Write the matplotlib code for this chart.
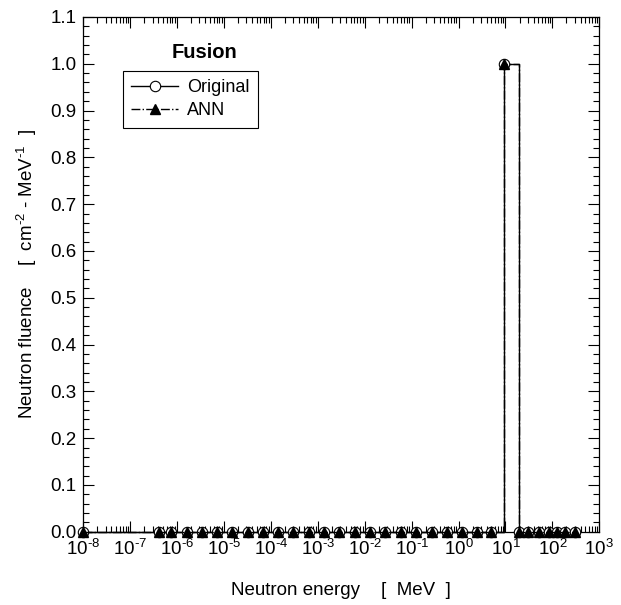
import numpy as np
import matplotlib
matplotlib.use("Agg")
import matplotlib.pyplot as plt
from matplotlib.ticker import MultipleLocator, LogLocator, NullFormatter, FuncFormatter

plt.rcParams['font.family'] = ['Liberation Sans', 'DejaVu Sans']
plt.rcParams['mathtext.fontset'] = 'custom'
plt.rcParams['mathtext.rm'] = 'Liberation Sans'
plt.rcParams['mathtext.it'] = 'Liberation Sans:italic'
plt.rcParams['mathtext.bf'] = 'Liberation Sans:bold'

# energy groups [MeV]
energy = [1.0e-8, 4.14e-7, 7.3e-7, 1.6e-6, 3.4e-6, 7.2e-6, 1.5e-5, 3.2e-5,
          6.7e-5, 1.4e-4, 3.0e-4, 6.4e-4, 1.35e-3, 2.9e-3, 6.1e-3, 1.3e-2,
          2.7e-2, 5.8e-2, 0.125, 0.27, 0.56, 1.17, 2.45, 5.0, 9.3,
          19.0, 31.0, 51.0, 83.0, 127.0, 190.0, 300.0]
original = [0.0] * 24 + [1.0] + [0.0] * 7
ann = [0.0] * 24 + [1.0] + [0.0] * 7

fig = plt.figure(figsize=(6.21, 6.05), dpi=100)
ax = fig.add_axes([0.134, 0.121, 0.831, 0.851])

ax.step(energy, original, where='post', color='black', lw=1.0,
        marker='o', ms=7.5, mfc='white', mec='black', mew=0.8,
        label='Original', clip_on=False, zorder=3)
ax.step(energy, ann, where='post', color='black', lw=1.0, ls='-.',
        marker='^', ms=7.5, mfc='black', mec='black',
        label='ANN', clip_on=False, zorder=4)

ax.set_xscale('log')
ax.set_xlim(1e-8, 1e3)
ax.set_ylim(0, 1.1)
ax.xaxis.set_major_locator(LogLocator(base=10, numticks=20))
ax.xaxis.set_minor_locator(LogLocator(base=10, subs=np.arange(2, 10), numticks=20))
ax.xaxis.set_minor_formatter(NullFormatter())


def pow_label(v, pos):
    n = int(round(np.log10(v)))
    s = '\u2010' + str(-n) if n < 0 else str(n)
    return '$\\mathregular{10^{' + s + '}}$'


ax.xaxis.set_major_formatter(FuncFormatter(pow_label))
ax.yaxis.set_major_locator(MultipleLocator(0.1))
ax.yaxis.set_minor_locator(MultipleLocator(0.02))
ax.yaxis.set_major_formatter(FuncFormatter(lambda v, p: f"{v:.1f}"))

ax.tick_params(which='both', direction='in', top=True, right=True, labelsize=13.5,
               width=0.8, color='black')
ax.tick_params(which='major', length=8, pad=5)
ax.tick_params(which='minor', length=4)
for s in ax.spines.values():
    s.set_linewidth(0.9)

ax.set_xlabel('Neutron energy    [  MeV  ]', fontsize=13.5, labelpad=17)
ax.set_ylabel('Neutron fluence    [  cm$^{\u2010 2}$ - MeV$^{\u2010 1}$  ]', fontsize=13.5,
              labelpad=8)

ax.text(0.235, 0.93, 'Fusion', transform=ax.transAxes, fontsize=14.5,
        fontweight='bold', ha='center', va='center')
leg = ax.legend(loc='upper left', bbox_to_anchor=(0.077, 0.895), fontsize=13,
                frameon=True, fancybox=False, edgecolor='black', framealpha=1,
                handlelength=2.6, handletextpad=0.5, borderpad=0.45,
                labelspacing=0.35, borderaxespad=0)
leg.get_frame().set_linewidth(0.8)

fig.savefig('out.png', dpi=100)
